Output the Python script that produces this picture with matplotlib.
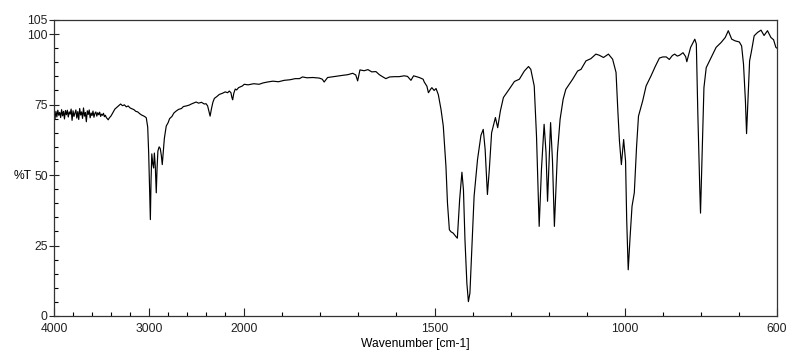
import numpy as np
import matplotlib
matplotlib.use("Agg")
import matplotlib.pyplot as plt
from matplotlib.ticker import FixedLocator, NullFormatter

plt.rcParams['font.family'] = ['Liberation Sans', 'DejaVu Sans']

# ---- data: 4000-3400 cm-1 (noisy region) ----
wn_noise = [4000, 3990, 3980, 3970, 3960, 3950, 3940, 3930, 3920, 3910, 3900, 3890, 3880, 3870,
            3860, 3850, 3840, 3830, 3820, 3810, 3800, 3790, 3780, 3770, 3760, 3750, 3740, 3730,
            3720, 3710, 3700, 3690, 3680, 3670, 3660, 3650, 3640, 3630, 3620, 3610, 3600, 3590,
            3580, 3570, 3560, 3550, 3540, 3530, 3520, 3510, 3500, 3490, 3480, 3470, 3460, 3450,
            3440, 3430, 3420, 3410]
t_noise = [72.0, 69.8, 72.6, 70.6, 73.0, 71.2, 72.2, 70.4, 73.2, 71.0, 72.6, 69.9, 72.9, 71.4,
           73.0, 70.6, 72.4, 71.6, 73.4, 69.4, 72.8, 70.8, 71.9, 73.1, 70.2, 72.5, 69.7, 73.6,
           71.3, 72.4, 70.1, 73.8, 70.9, 72.2, 68.9, 72.8, 71.5, 73.1, 70.3, 72.0, 71.1, 72.7,
           70.5, 71.9, 72.4, 70.9, 72.1, 71.4, 72.3, 70.8, 71.6, 71.2, 71.9, 70.7, 71.2, 70.4,
           70.0, 69.6, 70.2, 70.6]

# ---- data: 3400-2000 cm-1 ----
wn_high = [3400, 3380, 3360, 3340, 3320, 3300, 3280, 3260, 3240, 3220, 3200, 3180,
           3160, 3140, 3120, 3100, 3080, 3060, 3040, 3030, 3015, 3005, 2995, 2987, 2980, 2972,
           2962, 2953, 2945, 2935, 2925, 2917, 2908, 2895, 2883, 2872, 2862, 2852, 2840, 2820,
           2800, 2785, 2760, 2740, 2716, 2690, 2660, 2640, 2611, 2580, 2550, 2506, 2480, 2450,
           2420, 2401, 2385, 2370, 2359, 2345, 2330, 2314, 2290, 2262, 2230, 2200, 2175, 2157,
           2140, 2130, 2122, 2110, 2095, 2080, 2060, 2040, 2020, 2000]
t_high = [71.0, 72.2, 73.4, 74.0, 74.6, 75.2, 74.6, 74.9, 74.2, 74.5, 73.8, 73.5,
          73.2, 72.6, 72.4, 71.8, 71.3, 71.0, 70.6, 70.3, 67.0, 58.0, 45.0, 34.2, 48.0, 57.5,
          54.0, 52.5, 57.8, 53.0, 43.7, 52.0, 58.5, 60.0, 59.4, 57.0, 53.7, 58.0, 63.0, 67.4,
          68.6, 70.0, 70.8, 72.0, 72.7, 73.3, 73.6, 74.3, 74.5, 74.8, 75.3, 75.9, 75.5, 75.8,
          75.2, 75.3, 74.5, 72.5, 70.9, 73.5, 75.8, 77.2, 77.8, 78.6, 79.0, 79.5, 79.2, 79.8,
          79.2, 77.5, 76.7, 79.0, 80.5, 80.2, 81.0, 81.3, 81.6, 82.2]

# ---- data: 2000-1200 cm-1 ----
wn_mid = [1990, 1975, 1961, 1950, 1939, 1925, 1910, 1895, 1880, 1866, 1855, 1847, 1835, 1820,
          1803, 1795, 1790, 1781, 1770, 1755, 1740, 1728, 1715, 1707, 1702, 1696, 1685, 1675,
          1665, 1654, 1645, 1638, 1628, 1618, 1605, 1593, 1580, 1571, 1562, 1555, 1540, 1530,
          1527, 1520, 1516, 1510, 1507, 1501, 1496, 1490, 1483, 1477, 1470, 1466, 1461, 1457,
          1451, 1444, 1440, 1434, 1428, 1424, 1420, 1415, 1411, 1407, 1402, 1396, 1387, 1378,
          1372, 1367, 1361, 1356, 1350, 1340, 1334, 1327, 1319, 1304, 1290, 1277, 1264, 1253,
          1247, 1238, 1232, 1225, 1219, 1212, 1207, 1203]
t_mid = [82.0, 82.4, 82.2, 82.7, 83.0, 83.3, 83.1, 83.6, 83.8, 84.2, 84.2, 84.8, 84.5, 84.6,
         84.4, 84.0, 83.0, 84.6, 84.8, 85.1, 85.4, 85.6, 86.1, 85.5, 83.4, 87.3, 87.0, 87.4,
         86.6, 86.7, 85.6, 85.0, 84.2, 84.8, 84.9, 84.9, 85.2, 85.0, 83.6, 85.2, 84.6, 84.0,
         83.0, 81.5, 79.2, 80.5, 81.0, 80.0, 80.7, 78.5, 73.3, 67.4, 53.1, 40.1, 30.6, 29.9,
         29.4, 28.2, 27.6, 41.3, 51.0, 44.8, 27.0, 11.6, 5.1, 8.1, 23.5, 42.5, 55.5, 64.1,
         66.2, 59.1, 43.1, 52.0, 65.0, 70.4, 66.8, 72.7, 77.5, 80.4, 83.2, 84.0, 86.9, 88.5,
         87.5, 81.6, 63.8, 31.8, 52.0, 68.0, 58.0, 40.7]

# ---- data: 1200-600 cm-1 ----
wn_low = [1195, 1190, 1185, 1177, 1170, 1162, 1155, 1137, 1124, 1115, 1102, 1089, 1076, 1067,
          1056, 1043, 1032, 1023, 1018, 1014, 1009, 1003, 998, 995, 991, 986, 981, 975, 969,
          964, 953, 944, 931, 920, 909, 900, 891, 883, 875, 869, 862, 856, 847, 840, 837, 827,
          816, 812, 808, 803, 801, 796, 792, 786, 773, 760, 747, 736, 728, 719, 710, 699, 693,
          688, 683, 680, 676, 672, 667, 660, 651, 642, 634, 625, 616, 609, 603, 600]
t_low = [68.6, 55.0, 31.8, 57.9, 69.8, 76.9, 80.4, 84.0, 86.9, 87.5, 90.5, 91.3, 92.9, 92.5,
         91.7, 92.9, 91.1, 86.4, 72.1, 62.0, 53.7, 62.6, 55.0, 34.2, 16.4, 28.2, 38.9, 43.7, 60.2,
         70.9, 76.3, 81.6, 85.2, 88.5, 91.5, 91.9, 91.9, 91.0, 92.4, 92.9, 92.2, 92.5, 93.4, 92.0,
         90.2, 95.3, 98.2, 96.5, 71.5, 45.4, 36.5, 62.0, 81.0, 88.1, 91.7, 95.3, 97.0, 98.8, 101.2,
         98.2, 97.6, 97.2, 95.8, 89.3, 76.3, 64.7, 77.5, 90.5, 94.0, 99.4, 100.6, 101.4, 99.5,
         101.2, 98.8, 98.0, 95.3, 95.0]

x_major = [4000, 3000, 2000, 1500, 1000, 600]
x_labels = ['4000', '3000', '2000', '1500', '1000', '600']
y_major = [0, 25, 50, 75, 100, 105]
y_labels = ['0', '25', '50', '75', '100', '105']

wn = np.array(wn_noise + wn_high + wn_mid + wn_low, dtype=float)
tt = np.array(t_noise + t_high + t_mid + t_low, dtype=float)


def fwd(x):
    x = np.asarray(x, dtype=float)
    return np.where(x > 2000, 2000 + (x - 2000) / 4.0, x)


def inv(t):
    t = np.asarray(t, dtype=float)
    return np.where(t > 2000, 2000 + (t - 2000) * 4.0, t)


fig = plt.figure(figsize=(8.02, 3.58), dpi=100)
ax = fig.add_axes([54 / 802, 42 / 358, 723 / 802, 296 / 358])
ax.set_xscale('function', functions=(fwd, inv))
ax.plot(wn, tt, color='black', lw=0.85)
ax.set_xlim(4000, 600)
ax.set_ylim(0, 105)

minor_x = list(range(3800, 2000, -200)) + list(range(1900, 600, -100))
ax.xaxis.set_major_locator(FixedLocator(x_major))
ax.set_xticklabels(x_labels)
ax.xaxis.set_minor_locator(FixedLocator(minor_x))
ax.xaxis.set_minor_formatter(NullFormatter())
ax.yaxis.set_major_locator(FixedLocator(y_major))
ax.set_yticklabels(y_labels)
ax.yaxis.set_minor_locator(FixedLocator([v for v in range(5, 105, 5) if v % 25 != 0]))
ax.yaxis.set_minor_formatter(NullFormatter())

ax.tick_params(axis='x', which='major', direction='in', length=6, width=0.8, pad=5,
               labelsize=8.7, colors='#222222')
ax.tick_params(axis='x', which='minor', direction='in', length=3, width=0.8)
ax.tick_params(axis='y', which='major', direction='inout', length=7, width=0.8, pad=1,
               labelsize=8.7, colors='#222222')
ax.tick_params(axis='y', which='minor', direction='in', length=3, width=0.8)
for s in ax.spines.values():
    s.set_color('#333333')
    s.set_linewidth(0.9)

ax.set_xlabel('Wavenumber [cm-1]', fontsize=8.7, labelpad=2)
ax.set_ylabel('%T', fontsize=8.7, rotation=0, va='center', ha='center')
ax.yaxis.set_label_coords(-0.044, (316 - 176) / 296)

fig.savefig('out.png', dpi=100)
